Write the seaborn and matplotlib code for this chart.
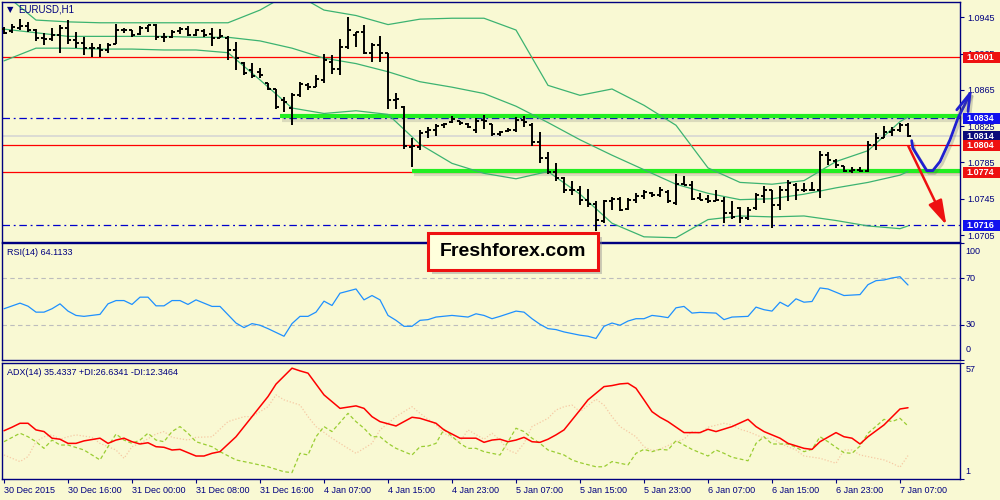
import matplotlib
matplotlib.use("Agg")
import matplotlib.pyplot as plt
import matplotlib.patheffects as pe
from matplotlib import transforms
from matplotlib.patches import Rectangle
import seaborn as sns

BG = "#F9F9D3"
NAVY = "#000080"

# EURUSD H1 bars
opens = [1.0932, 1.0930, 1.0933, 1.0935, 1.0931, 1.0922, 1.0921, 1.0926, 1.0933, 1.0920,
         1.0917, 1.0911, 1.0911, 1.0909, 1.0916, 1.0931, 1.0931, 1.0927, 1.0933, 1.0936,
         1.0923, 1.0923, 1.0930, 1.0932, 1.0926, 1.0930, 1.0927, 1.0922, 1.0922, 1.0909,
         1.0895, 1.0887, 1.0885, 1.0873, 1.0866, 1.0854, 1.0845, 1.0859, 1.0870, 1.0868,
         1.0876, 1.0896, 1.0888, 1.0912, 1.0926, 1.0929, 1.0906, 1.0915, 1.0906, 1.0854,
         1.0846, 1.0802, 1.0802, 1.0819, 1.0821, 1.0826, 1.0830, 1.0831, 1.0827, 1.0821,
         1.0832, 1.0827, 1.0816, 1.0820, 1.0821, 1.0832, 1.0826, 1.0808, 1.0790, 1.0775,
         1.0768, 1.0755, 1.0755, 1.0744, 1.0739, 1.0720, 1.0743, 1.0745, 1.0734, 1.0744,
         1.0748, 1.0751, 1.0749, 1.0752, 1.0740, 1.0761, 1.0760, 1.0746, 1.0745, 1.0743,
         1.0743, 1.0729, 1.0735, 1.0724, 1.0735, 1.0748, 1.0755, 1.0738, 1.0755, 1.0760,
         1.0755, 1.0755, 1.0755, 1.0793, 1.0787, 1.0781, 1.0776, 1.0777, 1.0776, 1.0804,
         1.0812, 1.0819, 1.0821, 1.0826]
highs = [1.0934, 1.0938, 1.0943, 1.0940, 1.0932, 1.0928, 1.0933, 1.0937, 1.0942, 1.0929,
         1.0923, 1.0917, 1.0916, 1.0917, 1.0938, 1.0933, 1.0931, 1.0935, 1.0937, 1.0938,
         1.0928, 1.0931, 1.0934, 1.0935, 1.0932, 1.0932, 1.0933, 1.0932, 1.0924, 1.0918,
         1.0896, 1.0895, 1.0889, 1.0873, 1.0866, 1.0857, 1.0862, 1.0874, 1.0873, 1.0881,
         1.0905, 1.0904, 1.0921, 1.0945, 1.0929, 1.0937, 1.0917, 1.0924, 1.0906, 1.0862,
         1.0847, 1.0812, 1.0821, 1.0824, 1.0827, 1.0829, 1.0836, 1.0831, 1.0829, 1.0834,
         1.0837, 1.0827, 1.0820, 1.0823, 1.0835, 1.0836, 1.0829, 1.0819, 1.0797, 1.0784,
         1.0769, 1.0765, 1.0759, 1.0756, 1.0743, 1.0744, 1.0747, 1.0747, 1.0746, 1.0751,
         1.0755, 1.0752, 1.0758, 1.0755, 1.0772, 1.0770, 1.0765, 1.0751, 1.0749, 1.0755,
         1.0747, 1.0743, 1.0736, 1.0736, 1.0751, 1.0759, 1.0755, 1.0759, 1.0766, 1.0762,
         1.0762, 1.0763, 1.0798, 1.0797, 1.0789, 1.0781, 1.0780, 1.0780, 1.0809, 1.0818,
         1.0825, 1.0824, 1.0829, 1.0828]
lows = [1.0927, 1.0928, 1.0931, 1.0929, 1.0919, 1.0915, 1.0919, 1.0906, 1.0916, 1.0911,
        1.0904, 1.0901, 1.0901, 1.0906, 1.0916, 1.0928, 1.0923, 1.0926, 1.0929, 1.0920,
        1.0918, 1.0922, 1.0927, 1.0924, 1.0924, 1.0923, 1.0913, 1.0922, 1.0898, 1.0887,
        1.0881, 1.0878, 1.0878, 1.0865, 1.0844, 1.0841, 1.0826, 1.0857, 1.0865, 1.0868,
        1.0873, 1.0883, 1.0881, 1.0910, 1.0912, 1.0905, 1.0896, 1.0896, 1.0844, 1.0844,
        1.0800, 1.0780, 1.0799, 1.0812, 1.0814, 1.0823, 1.0829, 1.0826, 1.0823, 1.0818,
        1.0822, 1.0814, 1.0814, 1.0819, 1.0819, 1.0824, 1.0803, 1.0784, 1.0772, 1.0765,
        1.0751, 1.0749, 1.0738, 1.0736, 1.0709, 1.0718, 1.0733, 1.0732, 1.0733, 1.0740,
        1.0745, 1.0747, 1.0747, 1.0740, 1.0738, 1.0760, 1.0744, 1.0744, 1.0740, 1.0742,
        1.0718, 1.0723, 1.0718, 1.0722, 1.0733, 1.0740, 1.0713, 1.0733, 1.0743, 1.0744,
        1.0752, 1.0754, 1.0746, 1.0782, 1.0779, 1.0775, 1.0773, 1.0775, 1.0775, 1.0799,
        1.0812, 1.0814, 1.0819, 1.0813]
closes = [1.0928, 1.0934, 1.0935, 1.0931, 1.0922, 1.0921, 1.0926, 1.0933, 1.0920, 1.0917,
          1.0911, 1.0911, 1.0909, 1.0915, 1.0931, 1.0931, 1.0926, 1.0933, 1.0936, 1.0923,
          1.0923, 1.0929, 1.0932, 1.0926, 1.0931, 1.0926, 1.0922, 1.0924, 1.0909, 1.0900,
          1.0884, 1.0880, 1.0881, 1.0866, 1.0846, 1.0852, 1.0859, 1.0872, 1.0868, 1.0877,
          1.0898, 1.0888, 1.0912, 1.0931, 1.0929, 1.0906, 1.0915, 1.0906, 1.0854, 1.0855,
          1.0803, 1.0803, 1.0818, 1.0821, 1.0825, 1.0827, 1.0833, 1.0829, 1.0824, 1.0831,
          1.0831, 1.0816, 1.0819, 1.0821, 1.0832, 1.0830, 1.0808, 1.0790, 1.0775, 1.0768,
          1.0755, 1.0755, 1.0744, 1.0739, 1.0722, 1.0743, 1.0745, 1.0733, 1.0744, 1.0748,
          1.0752, 1.0749, 1.0755, 1.0743, 1.0761, 1.0760, 1.0745, 1.0744, 1.0743, 1.0744,
          1.0729, 1.0725, 1.0724, 1.0733, 1.0749, 1.0755, 1.0738, 1.0755, 1.0762, 1.0755,
          1.0755, 1.0755, 1.0793, 1.0788, 1.0782, 1.0776, 1.0777, 1.0776, 1.0804, 1.0812,
          1.0819, 1.0821, 1.0826, 1.0814]

# Bollinger bands sampled every 4 bars
band_bars = list(range(0, 113, 4)) + [113]
band_upper = [1.0971, 1.0942, 1.0940, 1.0939, 1.0939, 1.0939, 1.0939, 1.0939, 1.0953, 1.0973,
              1.0953, 1.0947, 1.0937, 1.0943, 1.0944, 1.0944, 1.0931, 1.0870, 1.0859, 1.0866,
              1.0848, 1.0826, 1.0779, 1.0763, 1.0761, 1.0765, 1.0786, 1.0798, 1.0830, 1.0835]
band_middle = [1.0932, 1.0928, 1.0924, 1.0924, 1.0924, 1.0924, 1.0923, 1.0923, 1.0919, 1.0911,
               1.0900, 1.0894, 1.0885, 1.0874, 1.0868, 1.0861, 1.0847, 1.0829, 1.0810, 1.0793,
               1.0777, 1.0761, 1.0751, 1.0744, 1.0745, 1.0750, 1.0757, 1.0763, 1.0771, 1.0775]
band_lower = [1.0897, 1.0911, 1.0911, 1.0910, 1.0910, 1.0909, 1.0909, 1.0906, 1.0876, 1.0845,
              1.0839, 1.0842, 1.0838, 1.0805, 1.0784, 1.0773, 1.0767, 1.0775, 1.0750, 1.0718,
              1.0703, 1.0702, 1.0722, 1.0726, 1.0725, 1.0726, 1.0721, 1.0715, 1.0712, 1.0715]

rsi_bars = [0, 2, 3, 4, 5, 6, 7, 8, 9, 10, 12, 13, 14, 15, 16, 17, 18, 19, 20, 21, 22, 23, 24, 25,
            26, 27, 29, 30, 31, 32, 33, 35, 36, 37, 38, 39, 40, 41, 42, 44, 45, 46, 47, 48, 49, 50,
            51, 52, 53, 54, 56, 58, 59, 60, 61, 62, 64, 65, 66, 67, 68, 69, 70, 71, 72, 73, 74, 75,
            76, 77, 78, 79, 80, 81, 82, 83, 84, 85, 86, 87, 89, 90, 91, 93, 94, 95, 96, 97, 98, 99,
            100, 101, 102, 103, 105, 107, 108, 109, 110, 111, 112, 113]
rsi_values = [43.8, 48.6, 46.0, 40.9, 40.9, 43.8, 48.0, 41.8, 38.1, 37.3, 39.0, 48.0, 50.8, 50.8,
              47.5, 53.7, 53.7, 46.3, 46.3, 50.8, 50.8, 47.5, 51.4, 48.6, 45.8, 45.8, 31.6, 27.7,
              31.1, 29.7, 26.8, 20.3, 31.1, 37.3, 37.3, 40.9, 50.3, 46.6, 57.1, 60.7, 51.4, 55.1,
              51.4, 38.1, 33.9, 28.8, 28.8, 33.9, 34.5, 36.7, 38.1, 36.7, 39.5, 38.1, 35.3, 37.3,
              41.8, 40.9, 35.3, 30.5, 26.8, 26.0, 24.0, 22.6, 21.2, 20.3, 18.4, 28.8, 31.6, 29.7,
              33.3, 35.3, 35.3, 38.1, 37.3, 36.2, 44.6, 45.8, 40.1, 40.7, 40.1, 34.5, 36.7, 37.3,
              45.2, 43.0, 41.8, 49.4, 45.8, 52.3, 49.4, 50.0, 61.6, 60.7, 55.1, 55.9, 64.4, 67.8,
              68.4, 70.1, 71.2, 64.1]

adx_bars = [0, 1, 2, 3, 4, 5, 6, 7, 8, 9, 10, 12, 13, 14, 15, 16, 17, 18, 19, 20, 21, 22, 23, 24,
            25, 26, 27, 29, 31, 33, 34, 36, 37, 38, 40, 42, 44, 45, 46, 47, 49, 51, 52, 54, 55, 57,
            59, 60, 61, 62, 63, 64, 65, 66, 67, 68, 69, 70, 71, 72, 73, 74, 75, 76, 77, 78, 79, 80,
            81, 82, 83, 85, 87, 88, 89, 91, 93, 94, 95, 97, 98, 100, 101, 102, 104, 105, 106, 107,
            108, 110, 112, 113]
adx_values = [24.3, 26.0, 27.9, 27.9, 24.7, 23.9, 20.7, 20.2, 18.2, 18.2, 19.4, 20.7, 18.2, 19.8,
              20.7, 19.0, 17.9, 18.5, 16.6, 16.3, 15.0, 15.3, 13.7, 12.1, 12.1, 13.4, 14.2, 21.4,
              31.1, 40.8, 46.8, 54.5, 53.2, 52.1, 41.6, 35.1, 36.3, 35.1, 31.1, 28.7, 26.6, 30.8,
              30.3, 27.9, 24.7, 20.7, 20.7, 18.7, 19.8, 20.2, 19.0, 19.8, 21.1, 19.0, 18.7, 20.2,
              22.3, 24.7, 29.5, 34.3, 39.2, 42.4, 45.6, 46.1, 46.9, 47.2, 44.8, 39.2, 33.5, 30.8,
              28.7, 23.4, 23.4, 25.0, 23.9, 26.3, 29.8, 26.3, 23.9, 20.7, 18.2, 15.8, 15.3, 19.0,
              23.4, 21.4, 20.7, 17.9, 21.4, 27.1, 34.8, 35.4]

pdi_bars = [0, 2, 3, 4, 5, 6, 7, 8, 10, 12, 13, 14, 15, 16, 17, 18, 19, 20, 21, 22, 23, 24, 26, 27,
            29, 31, 33, 35, 36, 37, 38, 39, 40, 41, 43, 44, 45, 46, 47, 48, 49, 51, 52, 53, 54, 55,
            57, 58, 59, 60, 62, 63, 64, 65, 66, 67, 68, 70, 71, 72, 74, 75, 76, 78, 79, 80, 81, 82,
            83, 84, 85, 86, 88, 89, 90, 91, 93, 94, 95, 96, 98, 99, 100, 101, 102, 103, 104, 105,
            106, 107, 108, 110, 111, 112, 113]
pdi_values = [19.0, 23.1, 21.4, 19.0, 15.8, 19.8, 17.4, 17.4, 15.0, 10.2, 16.6, 22.7, 19.8, 18.2,
              19.8, 23.1, 19.8, 19.0, 23.9, 26.3, 23.1, 19.0, 16.6, 14.2, 10.2, 8.6, 6.9, 4.5,
              4.1, 13.4, 12.6, 21.4, 26.3, 23.9, 32.7, 28.7, 25.5, 21.4, 21.4, 18.2, 15.8, 12.6,
              16.6, 16.9, 18.2, 25.0, 18.2, 15.8, 15.8, 14.2, 12.6, 19.0, 25.5, 23.9, 20.7, 18.2,
              15.0, 12.6, 10.2, 8.9, 6.9, 6.9, 9.4, 7.8, 13.4, 15.3, 14.2, 15.3, 15.0, 19.5, 17.4,
              15.3, 12.1, 15.0, 13.4, 11.5, 9.8, 18.2, 21.4, 17.9, 17.9, 16.3, 14.2, 15.3, 21.4,
              19.0, 16.3, 13.7, 13.4, 16.9, 23.1, 29.8, 28.7, 30.3, 26.6]

mdi_bars = [0, 2, 3, 4, 5, 6, 7, 8, 9, 11, 12, 14, 15, 16, 17, 19, 20, 21, 23, 24, 26, 28, 30, 31,
            33, 34, 35, 37, 38, 39, 41, 42, 44, 45, 46, 47, 49, 51, 52, 54, 55, 57, 58, 60, 61, 62,
            63, 64, 65, 66, 68, 69, 70, 71, 72, 74, 75, 76, 77, 79, 80, 81, 82, 84, 85, 86, 87, 88,
            90, 91, 92, 93, 95, 96, 97, 99, 100, 102, 104, 105, 106, 107, 108, 110, 111, 112, 113]
mdi_values = [12.6, 9.4, 11.8, 19.0, 21.4, 22.3, 20.2, 21.4, 22.3, 21.1, 18.2, 15.0, 11.0, 16.6,
              18.2, 22.7, 23.9, 21.1, 19.8, 21.1, 21.4, 28.7, 31.1, 31.1, 35.9, 41.6, 39.2, 36.7,
              31.1, 26.3, 20.7, 18.2, 13.4, 15.8, 18.2, 24.7, 31.1, 35.9, 32.7, 27.1, 23.1, 19.0,
              24.7, 20.2, 23.1, 19.8, 15.0, 13.4, 18.2, 26.3, 30.3, 34.3, 35.9, 36.7, 33.5, 39.5,
              36.7, 31.1, 26.3, 21.4, 16.6, 14.7, 15.3, 19.0, 20.2, 23.9, 23.1, 26.0, 27.9, 27.1,
              25.0, 23.9, 20.7, 20.7, 18.2, 15.0, 12.1, 11.0, 8.6, 15.0, 15.0, 12.6, 11.8, 10.2,
              8.6, 6.7, 12.3]

time_labels = ["30 Dec 2015", "30 Dec 16:00", "31 Dec 00:00", "31 Dec 08:00", "31 Dec 16:00",
               "4 Jan 07:00", "4 Jan 15:00", "4 Jan 23:00", "5 Jan 07:00", "5 Jan 15:00",
               "5 Jan 23:00", "6 Jan 07:00", "6 Jan 15:00", "6 Jan 23:00", "7 Jan 07:00"]
time_label_bars = list(range(0, 113, 8))

price_ticks = [1.0705, 1.0745, 1.0785, 1.0825, 1.0865, 1.0905, 1.0945]
red_levels = [1.0901, 1.0804, 1.0774]
blue_levels = [1.0834, 1.0716]
bid_price = 1.0814
green_levels = [1.0836, 1.0776]
green_from = [34.5, 51]
tag_prices = [1.0901, 1.0834, 1.0814, 1.0804, 1.0774, 1.0716]
tag_colors = ["#EE1111", "#1111EE", "#0C0C7A", "#EE1111", "#EE1111", "#1111EE"]

# hand drawn forecast strokes (bar index, price)
up_path_x = [113.46, 113.6, 114.5, 115.34, 116.1, 117.0, 118.25, 119.25, 120.0, 120.75]
up_path_y = [1.0809, 1.0801, 1.0788, 1.0776, 1.0776, 1.0786, 1.0810, 1.0834, 1.0847, 1.0861]
up_head_x = [119.1, 120.75, 120.5]
up_head_y = [1.0843, 1.0861, 1.0841]
down_from = (113.04, 1.0803)
down_to = (117.8, 1.0716)

sns.set_theme(style="white")
plt.rcParams["font.family"] = ["Liberation Sans", "DejaVu Sans"]

fig = plt.figure(figsize=(10, 5), dpi=100, facecolor=BG)
ax = fig.add_axes([0.002, 0.516, 0.958, 0.480])
ax_rsi = fig.add_axes([0.002, 0.280, 0.958, 0.234])
ax_adx = fig.add_axes([0.002, 0.042, 0.958, 0.232])

for a in (ax, ax_rsi, ax_adx):
    a.set_facecolor(BG)
    a.set_xlim(-0.25, 119.5)
    for s in a.spines.values():
        s.set_color(NAVY)
        s.set_linewidth(1.0)
        s.set_visible(True)
    a.yaxis.tick_right()
    a.tick_params(axis="y", direction="out", length=3, width=0.8, pad=2,
                  colors=NAVY, labelsize=6.5)
    a.tick_params(axis="x", bottom=False, labelbottom=False)
    a.grid(False)

# ---- price panel ----
ax.set_ylim(1.06973, 1.09619)
ax.set_yticks(price_ticks)
ax.set_yticklabels([f"{p:.4f}" for p in price_ticks])

for lvl in red_levels:
    ax.axhline(lvl, color="#FF0000", lw=0.9, zorder=1)
for lvl in blue_levels:
    ax.axhline(lvl, color="#0000CC", lw=0.9, ls=(0, (6, 3, 1.5, 3)), zorder=1)
ax.axhline(bid_price, color="#D4D4D4", lw=1.1, zorder=1)

for lvl, start in zip(green_levels, green_from):
    ax.hlines(lvl, start, 119.5, color="#22EE22", lw=3.0, zorder=2,
              path_effects=[pe.SimpleLineShadow(offset=(1.5, -2.5), shadow_color="#555555",
                                                alpha=0.18, linewidth=3),
                            pe.Normal()])

for band in (band_upper, band_middle, band_lower):
    sns.lineplot(x=band_bars, y=band, ax=ax, color="#3CB371", lw=0.9,
                 estimator=None, legend=False, zorder=2)

bars = list(range(len(closes)))
ax.vlines(bars, lows, highs, color="black", lw=1.4, zorder=3)
ax.hlines(opens, [b - 0.42 for b in bars], bars, color="black", lw=1.4, zorder=3)
ax.hlines(closes, bars, [b + 0.42 for b in bars], color="black", lw=1.4, zorder=3)

shadow = [pe.SimpleLineShadow(offset=(1.5, -2), shadow_color="#555555", alpha=0.25), pe.Normal()]
ax.plot(up_path_x, up_path_y, color="#2020D0", lw=2.0, clip_on=False, zorder=6,
        solid_capstyle="round", solid_joinstyle="round", path_effects=shadow)
ax.plot(up_head_x, up_head_y, color="#2020D0", lw=2.0, clip_on=False, zorder=6,
        solid_capstyle="round", path_effects=shadow)
ax.annotate("", xy=down_to, xytext=down_from, annotation_clip=False, zorder=6,
            arrowprops=dict(arrowstyle="-|>,head_length=0.75,head_width=0.22",
                            mutation_scale=20, color="#EE1111", lw=1.8,
                            shrinkA=0, shrinkB=0))

to_tag = transforms.blended_transform_factory(fig.transFigure, ax.transData)
tag_h = 11 * (1.09619 - 1.06973) / 240
for p, c in zip(tag_prices, tag_colors):
    ax.add_artist(Rectangle((0.9625, p - tag_h / 2), 0.0375, tag_h, transform=to_tag,
                            facecolor=c, edgecolor="none", clip_on=False, zorder=7))
    ax.text(0.966, p, f"{p:.4f}", transform=to_tag, color="white", fontsize=6.5,
            fontweight="bold", va="center", ha="left", zorder=8, clip_on=False)

ax.text(0.0084, 0.967, "\u25bc", transform=ax.transAxes, color=NAVY, fontsize=6,
        va="center", ha="center", family="DejaVu Sans")
ax.text(0.0167, 0.967, "EURUSD,H1", transform=ax.transAxes, color=NAVY, fontsize=7,
        va="center", ha="left")

# ---- RSI panel ----
ax_rsi.set_ylim(0, 100)
ax_rsi.set_yticks([0, 30, 70, 100])
ax_rsi.set_yticklabels([])
for lvl in (30, 70):
    ax_rsi.axhline(lvl, color="#BDBDBD", lw=0.8, ls=(0, (4, 3)), zorder=1)
sns.lineplot(x=rsi_bars, y=rsi_values, ax=ax_rsi, color="#1E90FF", lw=0.9,
             estimator=None, legend=False, zorder=3)
rsi_tr = ax_rsi.get_yaxis_transform()
for v, va in ((100, "top"), (70, "center"), (30, "center"), (0, "bottom")):
    off = {"top": -3, "center": 0, "bottom": 5}[va]
    ax_rsi.text(1.006, v + off, str(v), transform=rsi_tr, color=NAVY, fontsize=6.5,
                va=va, ha="left", clip_on=False)
ax_rsi.text(0.0052, 0.923, "RSI(14) 64.1133", transform=ax_rsi.transAxes, color=NAVY,
            fontsize=6.5, va="center", ha="left")

# ---- ADX panel ----
ax_adx.set_ylim(1, 57)
ax_adx.set_yticks([1, 57])
ax_adx.set_yticklabels([])
sns.lineplot(x=mdi_bars, y=mdi_values, ax=ax_adx, color="#F6C9A4", lw=0.9,
             ls=(0, (1, 1.5)), estimator=None, legend=False, zorder=2)
sns.lineplot(x=pdi_bars, y=pdi_values, ax=ax_adx, color="#9ACD32", lw=0.9,
             ls=(0, (3, 2)), estimator=None, legend=False, zorder=2)
sns.lineplot(x=adx_bars, y=adx_values, ax=ax_adx, color="#FF0000", lw=1.1,
             estimator=None, legend=False, zorder=3)
adx_tr = ax_adx.get_yaxis_transform()
ax_adx.text(1.006, 56.2, "57", transform=adx_tr, color=NAVY, fontsize=6.5,
            va="top", ha="left", clip_on=False)
ax_adx.text(1.006, 2.5, "1", transform=adx_tr, color=NAVY, fontsize=6.5,
            va="bottom", ha="left", clip_on=False)
ax_adx.text(0.0052, 0.922, "ADX(14) 35.4337 +DI:26.6341 -DI:12.3464",
            transform=ax_adx.transAxes, color=NAVY, fontsize=6.5, va="center", ha="left")

ax_adx.set_xticks(time_label_bars)
ax_adx.set_xticklabels(time_labels, ha="left")
ax_adx.tick_params(axis="x", bottom=True, labelbottom=True, direction="out", length=3,
                   width=0.8, pad=2, colors=NAVY, labelsize=6.5)
ax_adx.set_xlabel("")
ax_adx.set_ylabel("")
ax.set_ylabel("")
ax_rsi.set_ylabel("")

# ---- watermark box ----
fig.add_artist(Rectangle((0.432, 0.452), 0.170, 0.074, transform=fig.transFigure,
                         facecolor="#888888", alpha=0.4, edgecolor="none", zorder=9))
fig.add_artist(Rectangle((0.428, 0.460), 0.170, 0.074, transform=fig.transFigure,
                         facecolor="#FFFFDC", edgecolor="#EE1111", lw=2.2, zorder=10))
fig.text(0.513, 0.497, "Freshforex.com", ha="center", va="center", fontsize=14,
         fontweight="bold", color="black", zorder=11)

fig.savefig("out.png", dpi=100, facecolor=BG)
